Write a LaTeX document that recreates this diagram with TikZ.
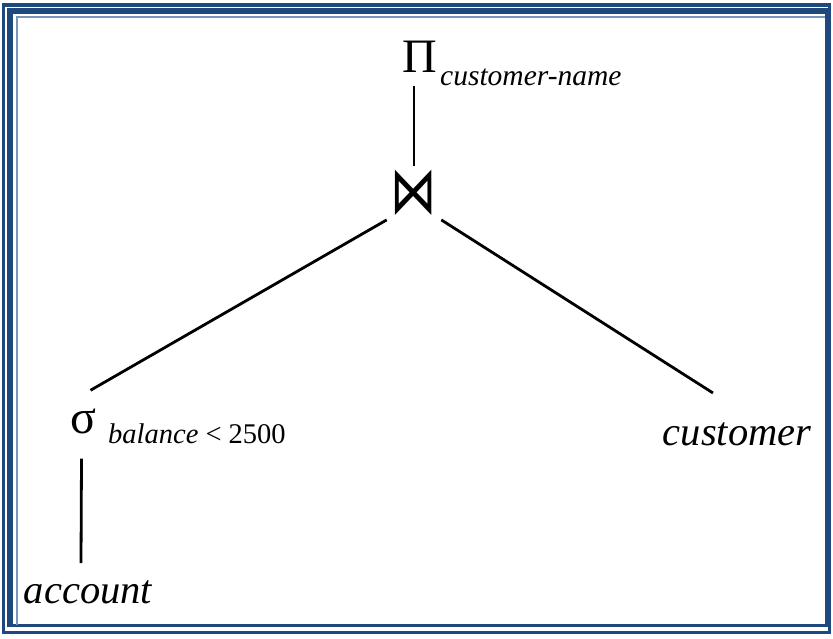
\documentclass[tikz,border=0pt]{standalone}
\usepackage{fontspec}
\setmainfont{Liberation Serif}
\newfontfamily\symbfont{DejaVu Sans}
\usetikzlibrary{positioning,calc}
\definecolor{framedark}{RGB}{31,73,125}
\definecolor{framelight}{RGB}{120,150,190}

\begin{document}
\begin{tikzpicture}[x=1pt,y=-1pt,
    opnode/.style={inner sep=6pt},
    subnode/.style={inner sep=0pt, anchor=base west, font=\fontsize{29.5}{31}\selectfont\itshape},
    relnode/.style={inner sep=6pt, anchor=base, font=\fontsize{40.5}{42}\selectfont\itshape},
    edge/.style={line width=2.8pt, black}]
    \useasboundingbox (0,0) rectangle (833,638);
    % frame
    \draw[framedark, line width=3.5pt] (3.7,5) rectangle (829.5,632.5);
    \draw[framedark, line width=3pt] (8.8,9.8) rectangle (826.2,625.8);
    \draw[framedark, line width=3pt] (11.8,625.8) |- (826.2,12.8);
    \draw[framelight, line width=2pt] (16.7,625) |- (825,17.3);
    % operators
    \node[opnode, font=\fontsize{48}{48}\selectfont] (proj) at (420,56.5) {Π};
    \node[subnode] (projsub) at (440,85) {customer-name};
    \node[opnode, inner sep=4pt, font=\fontsize{44}{44}\selectfont\symbfont] (join) at (414,193) {\scalebox{1.05}[1.5]{⋈}};
    \node[opnode, font=\fontsize{48}{48}\selectfont] (sel) at (83.5,421) {σ};
    \node[subnode, font=\fontsize{28.5}{30}\selectfont\itshape] (selsub) at (108,443) {balance \textup{< 2500}};
    % relations
    \node[relnode] (cust) at (737,445) {customer};
    \node[relnode] (acct) at (88,603) {account};
    % edges
    \draw[edge] (join.north) -- ([yshift=-8pt]join.north |- proj.south);
    \draw[edge] (join.south west) -- ([shift={(7pt,12pt)}]sel.north);
    \draw[edge] (join.south east) -- ([shift={(-24pt,23pt)}]cust.north);
    \draw[edge] ([shift={(-2pt,-19pt)}]sel.south) -- ([shift={(-7pt,11pt)}]acct.north);
\end{tikzpicture}
\end{document}
